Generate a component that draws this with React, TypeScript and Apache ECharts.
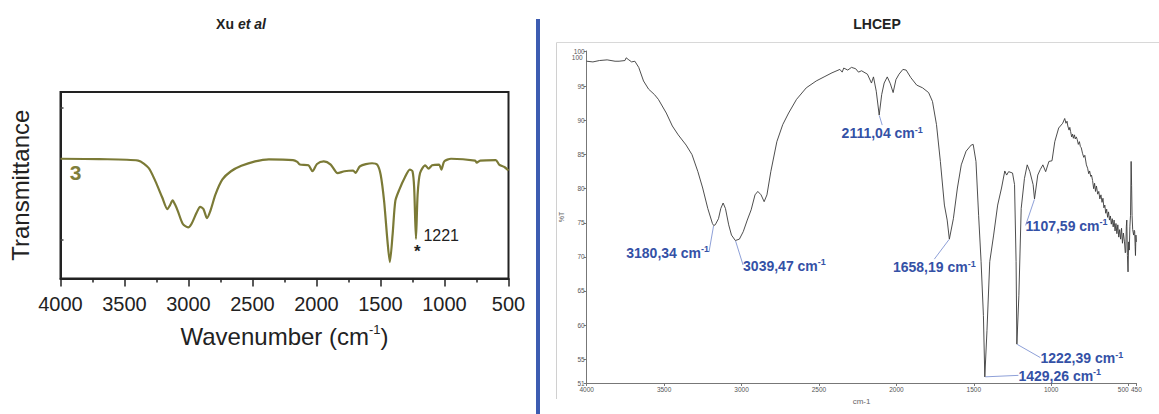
import React, { useEffect, useRef } from "react";
import * as echarts from "echarts";

// ---------- Xu et al (left) ----------
const xuWavenumbers = [4000, 3700, 3393, 3312, 3259, 3205, 3165, 3145, 3124, 3104, 3084, 3044, 3003, 2977, 2936, 2909, 2883, 2856, 2829, 2789, 2735, 2668, 2587, 2480, 2372, 2184, 2150, 2130, 2063, 2031, 1996, 1943, 1889, 1835, 1781, 1714, 1695, 1660, 1566, 1526, 1499, 1472, 1446, 1427, 1405, 1384, 1352, 1311, 1271, 1250, 1237, 1223, 1210, 1191, 1151, 1124, 1097, 1043, 1024, 1002, 949, 761, 748, 721, 600, 573, 532, 500];
const xuTransmittance = [64.2, 64.0, 63.2, 59.3, 52.2, 43.4, 37.2, 39.2, 41.9, 39.5, 36.3, 29.2, 27.4, 29.2, 35.4, 38.4, 37.2, 32.4, 36.3, 45.1, 53.1, 57.5, 60.4, 62.8, 63.9, 63.5, 62.5, 61.1, 60.7, 57.5, 61.4, 62.8, 61.1, 56.5, 57.5, 57.9, 56.6, 60.2, 61.8, 61.1, 55.8, 41.6, 20.4, 8.8, 23.9, 41.6, 47.8, 54.0, 58.4, 57.5, 48.7, 21.2, 45.1, 56.6, 60.7, 58.9, 60.7, 61.1, 58.4, 62.8, 64.2, 63.2, 62.1, 63.2, 63.5, 61.1, 59.8, 57.9];
const xuTickValues = [20.9, 91.3];
const xuPeak = [1221, 21.2];
const xuPeakLabel = "1221";
const xuSampleLabel = "3";

// ---------- LHCEP (right) ----------
const lhWavenumbers = [4000, 3960, 3918, 3868, 3817, 3791, 3753, 3745, 3728, 3710, 3689, 3664, 3633, 3600, 3562, 3537, 3486, 3447, 3409, 3358, 3320, 3282, 3251, 3218, 3188, 3180, 3170, 3149, 3134, 3119, 3104, 3083, 3065, 3040, 3014, 2989, 2963, 2938, 2913, 2895, 2874, 2854, 2836, 2811, 2772, 2734, 2696, 2645, 2582, 2518, 2467, 2416, 2365, 2350, 2340, 2314, 2290, 2263, 2245, 2225, 2187, 2161, 2148, 2130, 2111, 2095, 2079, 2059, 2039, 2021, 2003, 1983, 1958, 1937, 1907, 1869, 1831, 1792, 1767, 1741, 1716, 1690, 1672, 1658, 1632, 1606, 1581, 1550, 1517, 1504, 1486, 1469, 1453, 1438, 1429, 1415, 1397, 1372, 1346, 1321, 1300, 1288, 1275, 1250, 1237, 1227, 1222, 1209, 1194, 1173, 1155, 1138, 1117, 1108, 1087, 1071, 1054, 1036, 1015, 995, 977, 952, 926, 913, 905, 898, 893, 885, 880, 875, 868, 862, 857, 850, 845, 838, 832, 825, 818, 812, 806, 798, 790, 783, 773, 765, 758, 752, 745, 740, 733, 726, 720, 714, 708, 700, 693, 686, 679, 672, 666, 660, 654, 648, 642, 636, 630, 624, 618, 612, 606, 600, 594, 588, 582, 576, 570, 564, 558, 552, 546, 540, 534, 527, 522, 519, 515, 512, 508, 504, 500, 496, 492, 488, 484, 481, 478, 474, 468, 464, 461, 458, 456, 453, 450];
const lhTransmittance = [98.7, 98.6, 98.8, 98.9, 98.7, 98.7, 98.8, 99.2, 98.9, 98.6, 98.7, 97.8, 95.8, 94.6, 93.8, 93.1, 91.1, 89.2, 87.9, 86.4, 85.0, 82.5, 80.1, 77.1, 74.9, 74.6, 74.7, 75.6, 77.1, 77.9, 77.1, 74.7, 73.2, 72.4, 72.6, 73.7, 75.4, 76.9, 79.1, 79.6, 79.1, 78.1, 79.1, 82.5, 86.9, 89.4, 91.1, 93.1, 94.8, 95.8, 96.4, 97.0, 97.5, 97.1, 97.7, 97.4, 97.8, 97.6, 97.1, 97.3, 96.8, 95.5, 96.4, 94.3, 90.8, 93.8, 95.5, 96.4, 95.4, 94.1, 96.0, 96.8, 97.5, 97.4, 96.3, 95.2, 94.8, 94.1, 92.8, 89.4, 84.0, 77.6, 75.4, 72.6, 75.6, 80.1, 83.5, 85.5, 86.4, 86.5, 84.0, 76.1, 69.3, 61.4, 52.4, 59.2, 69.3, 73.2, 77.6, 80.1, 82.6, 82.0, 82.5, 82.3, 80.6, 69.3, 57.2, 64.3, 77.1, 81.5, 83.5, 82.5, 80.6, 78.5, 82.0, 82.8, 83.5, 82.5, 84.0, 84.1, 86.9, 88.9, 89.6, 90.3, 89.6, 89.9, 89.2, 88.6, 89.0, 88.4, 87.6, 88.0, 87.4, 87.9, 87.3, 87.6, 87.2, 86.5, 86.9, 86.2, 86.0, 85.2, 84.6, 84.9, 83.5, 83.0, 82.2, 82.6, 81.8, 82.0, 81.2, 80.0, 80.8, 79.6, 80.4, 79.2, 79.6, 78.5, 79.1, 78.0, 78.6, 77.2, 77.6, 76.4, 77.0, 75.8, 76.6, 75.4, 76.0, 74.8, 75.6, 74.4, 75.4, 73.8, 74.9, 73.4, 74.7, 72.9, 74.0, 72.6, 74.2, 72.0, 73.5, 72.2, 70.6, 70.7, 74.5, 75.4, 70.2, 67.8, 72.2, 71.0, 74.5, 76.1, 84.0, 80.5, 76.1, 74.0, 73.2, 73.9, 73.7, 71.5, 70.2, 73.2, 72.2];
const lhPeakLabels = ["3180,34", "3039,47", "2111,04", "1658,19", "1429,26", "1222,39", "1107,59"];
const lhPeakWavenumbers = [3180.34, 3039.47, 2111.04, 1658.19, 1429.26, 1222.39, 1107.59];
const lhPeakTransmittance = [74.6, 72.4, 90.8, 72.6, 52.4, 57.2, 78.5];
const lhXTicks = [4000, 3500, 3000, 2500, 2000, 1500, 1000, 500, 450];
const lhXLabelsExtra = [500];
const lhYTicks = [51.5, 55, 60, 65, 70, 75, 80, 85, 90, 95, 100.2];
const lhYLabelsExtra = [99.3];

// label offsets (layout only)
const lhLabelOffsets = [
  [-46, 27],
  [49, 25],
  [3, 18],
  [-15, 28],
  [75, -1],
  [65, 14],
  [32, 27],
];

const FONT = "'Liberation Sans', Arial, sans-serif";
const OLIVE = "#7b7a36";
const BLUE = "#3451a6";

const zip = (a: number[], b: number[]) => a.map((v, i) => [v, b[i]]);
const yFmt = (v: number) => (v < 52 ? "51" : v > 99 ? "100" : String(v));

export default function App() {
  const ref = useRef<HTMLDivElement>(null);
  useEffect(() => {
    if (!ref.current) return;
    const chart = echarts.init(ref.current, null, { renderer: "svg" });
    const smallLabel = { fontSize: 6.5, color: "#555", fontFamily: FONT, hideOverlap: false, showMinLabel: true, showMaxLabel: true };
    const option: any = {
      animation: false,
      backgroundColor: "#ffffff",
      textStyle: { fontFamily: FONT },
      grid: [
        {
          left: 60.5,
          top: 92,
          width: 448,
          height: 186.5,
          show: true,
          borderColor: "#222",
          borderWidth: 2,
          backgroundColor: "transparent",
        },
        { left: 586.7, top: 51, width: 549.7, height: 332 },
      ],
      xAxis: [
        {
          type: "value",
          gridIndex: 0,
          min: 500,
          max: 4000,
          interval: 500,
          inverse: true,
          name: "{a|Wavenumber (cm}{s|-1}{a|)}",
          nameLocation: "middle",
          nameGap: 44,
          nameTextStyle: {
            rich: {
              a: { fontSize: 24, color: "#222", fontFamily: FONT, lineHeight: 28 },
              s: { fontSize: 13, color: "#222", fontFamily: FONT, verticalAlign: "top", lineHeight: 14 },
            },
          },
          axisLine: { lineStyle: { color: "#222", width: 2 } },
          axisTick: { length: 8, lineStyle: { color: "#222", width: 1.5 } },
          minorTick: { show: true, splitNumber: 2, length: 4, lineStyle: { color: "#222", width: 1.5 } },
          splitLine: { show: false },
          minorSplitLine: { show: false },
          axisLabel: { fontSize: 20, color: "#222", margin: 15, fontFamily: FONT, formatter: (v: number) => String(v) },
        },
        {
          type: "value",
          gridIndex: 1,
          position: "bottom",
          min: 450,
          max: 4000,
          inverse: true,
          name: "cm-1",
          nameLocation: "middle",
          nameGap: 12,
          nameTextStyle: { fontSize: 8, color: "#666", fontFamily: FONT },
          axisLine: { lineStyle: { color: "#777", width: 1 } },
          axisTick: { customValues: lhXTicks, length: 3, lineStyle: { color: "#777" } },
          axisLabel: {
            ...smallLabel,
            customValues: lhXTicks.filter((v) => !lhXLabelsExtra.includes(v)),
            margin: 3,
            formatter: (v: number) => String(v),
          },
          splitLine: { show: false },
        },
        {
          type: "value",
          gridIndex: 1,
          position: "bottom",
          offset: 0,
          min: 450,
          max: 4000,
          inverse: true,
          axisLine: { show: false, lineStyle: { color: "#777" } },
          axisTick: { show: false },
          axisLabel: {
            ...smallLabel,
            customValues: lhXLabelsExtra,
            margin: 3,
            align: "right",
            formatter: (v: number) => String(v),
          },
          splitLine: { show: false },
        },
      ],
      yAxis: [
        {
          type: "value",
          gridIndex: 0,
          min: 0,
          max: 100,
          name: "Transmittance",
          nameLocation: "middle",
          nameGap: 28,
          nameTextStyle: { fontSize: 24, color: "#222", fontFamily: FONT },
          axisLine: { lineStyle: { color: "#222", width: 2 } },
          axisTick: { inside: true, length: 3, customValues: xuTickValues, lineStyle: { color: "#444", width: 1.5 } },
          axisLabel: { show: false },
          splitLine: { show: false },
        },
        {
          type: "value",
          gridIndex: 1,
          position: "left",
          min: 51.5,
          max: 100.2,
          name: "%T",
          nameLocation: "middle",
          nameGap: 22,
          nameTextStyle: { fontSize: 7, color: "#666", fontFamily: FONT },
          axisLine: { lineStyle: { color: "#777", width: 1 } },
          axisTick: { customValues: lhYTicks, length: 3, lineStyle: { color: "#777" } },
          axisLabel: { ...smallLabel, customValues: lhYTicks, margin: 2, formatter: yFmt },
          splitLine: { show: false },
        },
        {
          type: "value",
          gridIndex: 1,
          position: "left",
          offset: 0,
          min: 51.5,
          max: 100.2,
          axisLine: { show: false, lineStyle: { color: "#777" } },
          axisTick: { show: false },
          axisLabel: { ...smallLabel, customValues: lhYLabelsExtra, margin: 4, formatter: yFmt },
          splitLine: { show: false },
        },
      ],
      series: [
        {
          type: "line",
          xAxisIndex: 0,
          yAxisIndex: 0,
          data: zip(xuWavenumbers, xuTransmittance),
          showSymbol: false,
          smooth: 0.25,
          lineStyle: { color: OLIVE, width: 2.2 },
          markPoint: {
            symbol: "circle",
            symbolSize: 0,
            data: [
              {
                coord: [xuWavenumbers[0], xuTransmittance[0]],
                label: {
                  show: true,
                  formatter: xuSampleLabel,
                  position: "inside",
                  offset: [15, 14],
                  fontSize: 21,
                  fontWeight: "bold",
                  color: "#807e3b",
                  textBorderWidth: 0,
                  fontFamily: FONT,
                },
              },
              {
                coord: xuPeak,
                label: {
                  show: true,
                  formatter: xuPeakLabel,
                  position: "inside",
                  offset: [25, -3],
                  fontSize: 16,
                  color: "#222",
                  textBorderWidth: 0,
                  fontFamily: FONT,
                },
              },
              {
                coord: xuPeak,
                label: {
                  show: true,
                  formatter: "*",
                  position: "inside",
                  offset: [1, 13],
                  fontSize: 17,
                  fontWeight: "bold",
                  color: "#222",
                  textBorderWidth: 0,
                  fontFamily: FONT,
                },
              },
            ],
          },
        },
        {
          type: "line",
          xAxisIndex: 1,
          yAxisIndex: 1,
          data: zip(lhWavenumbers, lhTransmittance),
          showSymbol: false,
          lineStyle: { color: "#3a3a3a", width: 0.9 },
        },
        {
          type: "scatter",
          xAxisIndex: 1,
          yAxisIndex: 1,
          symbolSize: 1,
          itemStyle: { color: "transparent" },
          data: lhPeakWavenumbers.map((w, i) => ({ value: [w, lhPeakTransmittance[i]], name: lhPeakLabels[i] })),
          label: {
            show: true,
            position: "inside",
            color: BLUE,
            fontSize: 14,
            fontWeight: "bold",
            fontFamily: FONT,
            textBorderWidth: 0,
            textBorderColor: "transparent",
            opacity: 1,
            formatter: (p: any) => `{a|${p.name} cm}{s|-1}`,
            rich: {
              a: { fontSize: 14, fontWeight: "bold", color: BLUE, fontFamily: FONT, lineHeight: 16, textBorderWidth: 0 },
              s: { fontSize: 9, fontWeight: "bold", color: BLUE, fontFamily: FONT, verticalAlign: "top", lineHeight: 9, textBorderWidth: 0 },
            },
          },
          labelLayout: (p: any) => ({ dx: lhLabelOffsets[p.dataIndex][0], dy: lhLabelOffsets[p.dataIndex][1] }),
          labelLine: { show: true, lineStyle: { color: "#8ea0d8", width: 1 } },
        },
      ],
      graphic: [
        {
          type: "text",
          x: 241,
          y: 24,
          style: {
            text: "Xu {i|et al}",
            fontSize: 14,
            fontWeight: "bold",
            fontFamily: FONT,
            fill: "#222",
            align: "center",
            verticalAlign: "middle",
            rich: { i: { fontSize: 14, fontWeight: "bold", fontStyle: "italic", fontFamily: FONT, fill: "#222" } },
          },
        },
        {
          type: "text",
          x: 877,
          y: 24,
          style: {
            text: "LHCEP",
            fontSize: 14,
            fontWeight: "bold",
            fontFamily: FONT,
            fill: "#222",
            align: "center",
            verticalAlign: "middle",
          },
        },
        { type: "rect", shape: { x: 536, y: 19, width: 4, height: 395 }, style: { fill: "#3d5cb1" } },
        { type: "line", shape: { x1: 556.5, y1: 42.5, x2: 556.5, y2: 399 }, style: { stroke: "#d0d0d0", lineWidth: 1 } },
        { type: "line", shape: { x1: 556.5, y1: 42.5, x2: 1159, y2: 42.5 }, style: { stroke: "#d8d8d8", lineWidth: 1 } },
      ],
    };
    chart.setOption(option);
    return () => chart.dispose();
  }, []);
  return <div ref={ref} style={{ position: "fixed", left: 0, top: 0, width: 1159, height: 414 }} />;
}
